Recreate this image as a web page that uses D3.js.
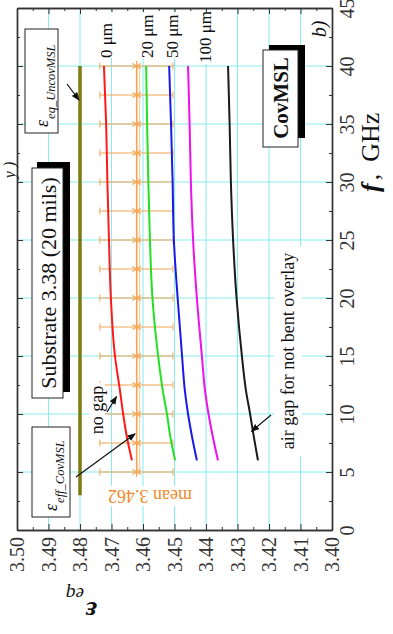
<!DOCTYPE html>
<html>
<head>
<meta charset="utf-8">
<script src="https://cdn.jsdelivr.net/npm/d3@7"></script>
<style>
  body { margin: 0; background: #fff; }
  svg { display: block; font-family: "Liberation Serif", "DejaVu Serif", serif; }
  svg text { font-family: "Liberation Serif", "DejaVu Serif", serif; }
</style>
</head>
<body>
<script>
'use strict';

// frequency samples (GHz) shared by the five curves
const freqs = [6, 8, 10, 12, 15, 20, 25, 30, 35, 40];

// eps_eq of the covered line for each air gap
const eps0um   = [3.4635, 3.4651, 3.4663, 3.4673, 3.4689, 3.4702, 3.4708, 3.4713, 3.4717, 3.4724];
const eps20um  = [3.4498, 3.4513, 3.4524, 3.4537, 3.4552, 3.4570, 3.4578, 3.4583, 3.4587, 3.4590];
const eps50um  = [3.4429, 3.4444, 3.4457, 3.4467, 3.4476, 3.4490, 3.4502, 3.4506, 3.4511, 3.4517];
const eps100um = [3.4362, 3.4378, 3.4392, 3.4403, 3.4413, 3.4429, 3.4441, 3.4448, 3.4452, 3.4457];
const epsBent  = [3.4235, 3.4248, 3.4260, 3.4273, 3.4286, 3.4303, 3.4314, 3.4321, 3.4325, 3.4330];

// uncovered microstrip: flat line
const uncovFreqs = [3, 40];
const uncovEps = [3.480, 3.480];

// mean value with its spread (orange error bars)
const meanFreqs = [5, 7.5, 10, 12.5, 15, 17.5, 20, 22.5, 25, 27.5, 30, 32.5, 35, 37.5, 40];
const meanEps = 3.462;
const meanLow = 3.4505;
const meanHigh = 3.4737;

// axis ticks
const epsTicks = [3.40, 3.41, 3.42, 3.43, 3.44, 3.45, 3.46, 3.47, 3.48, 3.49, 3.50];
const epsMinor = [3.405, 3.415, 3.425, 3.435, 3.445, 3.455, 3.465, 3.475, 3.485, 3.495];
const fTicks = [0, 5, 10, 15, 20, 25, 30, 35, 40, 45];
const fMinor = [2.5, 7.5, 12.5, 17.5, 22.5, 27.5, 32.5, 37.5, 42.5];

const curveNames = ['0 μm', '20 μm', '50 μm', '100 μm', 'bent'];
const curveColors = ['#ff1a1a', '#22e022', '#1a1ae6', '#ee10ee', '#1a1a1a'];
const curveValues = [eps0um, eps20um, eps50um, eps100um, epsBent];

const serif = '"Liberation Serif", "DejaVu Serif", serif';

const svg = d3.select('body').append('svg')
  .attr('width', 393)
  .attr('height', 634);

// the plot is drawn turned a quarter turn: eps runs left->right (decreasing), f runs bottom->top
const x = d3.scaleLinear().domain([3.50, 3.40]).range([17, 332]);
const y = d3.scaleLinear().domain([0, 45]).range([530, 8]);

const gridColor = '#86ecef';
const orange = '#f4a453';

// grid lines
svg.append('g').selectAll('line')
  .data(epsTicks.slice(1, -1))
  .enter().append('line')
    .attr('x1', d => x(d)).attr('x2', d => x(d))
    .attr('y1', y(0)).attr('y2', y(45))
    .attr('stroke', gridColor).attr('stroke-width', 1);

svg.append('g').selectAll('line')
  .data(fTicks.slice(1, -1))
  .enter().append('line')
    .attr('y1', d => y(d)).attr('y2', d => y(d))
    .attr('x1', x(3.50)).attr('x2', x(3.40))
    .attr('stroke', gridColor).attr('stroke-width', 1);

// uncovered MSL line
let line = d3.line()
  .x(d => x(d[1]))
  .y(d => y(d[0]));

svg.append('path')
  .datum(d3.zip(uncovFreqs, uncovEps))
  .attr('fill', 'none')
  .attr('stroke', '#7d7a12')
  .attr('stroke-width', 3.5)
  .attr('d', line);

// mean with error bars
let errG = svg.append('g');
errG.append('line')
  .attr('x1', x(meanEps)).attr('x2', x(meanEps))
  .attr('y1', y(meanFreqs[0])).attr('y2', y(meanFreqs[meanFreqs.length - 1]))
  .attr('stroke', orange).attr('stroke-width', 1.6);
errG.append('line')
  .attr('x1', x(meanEps) + 3).attr('x2', x(meanEps) + 3)
  .attr('y1', y(meanFreqs[0])).attr('y2', y(meanFreqs[meanFreqs.length - 1]))
  .attr('stroke', '#f9c795').attr('stroke-width', 1);

meanFreqs.forEach(f => {
  errG.append('line')
    .attr('x1', x(meanHigh)).attr('x2', x(meanLow))
    .attr('y1', y(f)).attr('y2', y(f))
    .attr('stroke', orange).attr('stroke-width', 1);
  [meanHigh, meanLow].forEach(e => {
    errG.append('line')
      .attr('x1', x(e)).attr('x2', x(e))
      .attr('y1', y(f) - 3.5).attr('y2', y(f) + 3.5)
      .attr('stroke', orange).attr('stroke-width', 1);
  });
  errG.append('path')
    .attr('d', d3.symbol(d3.symbolAsterisk, 70)())
    .attr('transform', 'translate(' + x(meanEps) + ',' + y(f) + ')')
    .attr('fill', 'none')
    .attr('stroke', orange)
    .attr('stroke-width', 1.2);
});

// the five curves
curveValues.forEach((vals, i) => {
  svg.append('path')
    .datum(d3.zip(freqs, vals))
    .attr('fill', 'none')
    .attr('stroke', curveColors[i])
    .attr('stroke-width', 2)
    .attr('stroke-linejoin', 'round')
    .attr('d', line.curve(d3.curveMonotoneY));
});

// axes: ticks point inward on all four sides
function styleAxis(g) {
  g.attr('font-family', serif).attr('font-size', null);
  g.select('.domain').attr('stroke', '#333').attr('stroke-width', 1.4);
  g.selectAll('.tick line').attr('stroke', '#333');
}

let bottomAxis = svg.append('g')
  .attr('transform', 'translate(0,' + y(0) + ')')
  .call(d3.axisBottom(x).tickValues(epsTicks).tickSize(-6).tickSizeOuter(0).tickFormat(d3.format('.2f')))
  .call(styleAxis);
bottomAxis.selectAll('.tick text')
  .attr('transform', 'rotate(-90)')
  .attr('x', -7).attr('y', 0).attr('dy', '0.33em')
  .attr('text-anchor', 'end')
  .attr('fill', '#333')
  .style('font-family', serif)
  .style('font-size', '20px');
svg.append('g')
  .attr('transform', 'translate(0,' + y(0) + ')')
  .call(d3.axisBottom(x).tickValues(epsMinor).tickSize(-3).tickSizeOuter(0).tickFormat(''))
  .call(styleAxis);

svg.append('g')
  .attr('transform', 'translate(0,' + y(45) + ')')
  .call(d3.axisTop(x).tickValues(epsTicks).tickSize(-6).tickSizeOuter(0).tickFormat(''))
  .call(styleAxis);
svg.append('g')
  .attr('transform', 'translate(0,' + y(45) + ')')
  .call(d3.axisTop(x).tickValues(epsMinor).tickSize(-3).tickSizeOuter(0).tickFormat(''))
  .call(styleAxis);

svg.append('g')
  .attr('transform', 'translate(' + x(3.50) + ',0)')
  .call(d3.axisLeft(y).tickValues(fTicks).tickSize(-6).tickSizeOuter(0).tickFormat(''))
  .call(styleAxis);
svg.append('g')
  .attr('transform', 'translate(' + x(3.50) + ',0)')
  .call(d3.axisLeft(y).tickValues(fMinor).tickSize(-3).tickSizeOuter(0).tickFormat(''))
  .call(styleAxis);

let rightAxis = svg.append('g')
  .attr('transform', 'translate(' + x(3.40) + ',0)')
  .call(d3.axisRight(y).tickValues(fTicks).tickSize(-6).tickSizeOuter(0))
  .call(styleAxis);
rightAxis.selectAll('.tick text')
  .attr('transform', 'rotate(-90)')
  .attr('x', 0).attr('y', 15).attr('dy', '0.33em')
  .attr('text-anchor', 'middle')
  .attr('fill', '#333')
  .style('font-family', serif)
  .style('font-size', '20px');
svg.append('g')
  .attr('transform', 'translate(' + x(3.40) + ',0)')
  .call(d3.axisRight(y).tickValues(fMinor).tickSize(-3).tickSizeOuter(0).tickFormat(''))
  .call(styleAxis);

// helper for text turned like the chart (reads bottom to top)
function upText(cx, cy, txt, size, opts) {
  opts = opts || {};
  let t = svg.append('text')
    .attr('transform', 'translate(' + cx + ',' + cy + ') rotate(' + (opts.angle || -90) + ')')
    .attr('text-anchor', opts.anchor || 'middle')
    .attr('dy', opts.dy || '0.35em')
    .style('font-size', size + 'px')
    .attr('fill', opts.fill || '#111')
    .text(txt);
  if (opts.italic) t.style('font-style', 'italic');
  if (opts.bold) t.style('font-weight', 'bold');
  return t;
}

// arrow heads
svg.append('defs').append('marker')
  .attr('id', 'arr')
  .attr('viewBox', '0 0 10 10')
  .attr('refX', 9).attr('refY', 5)
  .attr('markerWidth', 7).attr('markerHeight', 7)
  .attr('orient', 'auto')
  .append('path')
    .attr('d', 'M0,1 L10,5 L0,9 z')
    .attr('fill', '#111');

function arrow(x1, y1, x2, y2) {
  svg.append('line')
    .attr('x1', x1).attr('y1', y1).attr('x2', x2).attr('y2', y2)
    .attr('stroke', '#111').attr('stroke-width', 1.2)
    .attr('marker-end', 'url(#arr)');
}

// curve labels at the top ends
let labelX = [106, 147, 172, 205];
curveNames.slice(0, 4).forEach((name, i) => {
  svg.append('rect')
    .attr('x', labelX[i] - 7).attr('y', 12)
    .attr('width', 14).attr('height', i === 3 ? 52 : 46)
    .attr('fill', '#fff');
  upText(labelX[i], 58 + (i === 3 ? 5 : 0), name, 17, { anchor: 'start' });
});

// uncovered MSL box
svg.append('rect').attr('x', 25).attr('y', 29).attr('width', 33).attr('height', 104)
  .attr('fill', '#fff').attr('stroke', '#222').attr('stroke-width', 1);
let tUn = svg.append('text')
  .attr('transform', 'translate(48,127) rotate(-90)')
  .style('font-style', 'italic').attr('fill', '#111');
tUn.append('tspan').style('font-size', '18px').text('ε');
tUn.append('tspan').style('font-size', '12.5px').attr('dy', 7).attr('dx', 1).text('eq_UncovMSL');
arrow(67, 84, x(uncovEps[0]) - 1, y(37.5) + 5);

// substrate box with shadow
svg.append('rect').attr('x', 37).attr('y', 162).attr('width', 33).attr('height', 230).attr('fill', '#000');
svg.append('rect').attr('x', 32).attr('y', 168).attr('width', 31).attr('height', 230)
  .attr('fill', '#fff').attr('stroke', '#222').attr('stroke-width', 1);
upText(48, 283, 'Substrate 3.38 (20 mils)', 22);

// covered MSL eff box
svg.append('rect').attr('x', 32).attr('y', 427).attr('width', 38).attr('height', 90)
  .attr('fill', '#fff').attr('stroke', '#222').attr('stroke-width', 1);
let tCov = svg.append('text')
  .attr('transform', 'translate(57,511) rotate(-90)')
  .style('font-style', 'italic').attr('fill', '#111');
tCov.append('tspan').style('font-size', '18px').text('ε');
tCov.append('tspan').style('font-size', '12.5px').attr('dy', 7).attr('dx', 1).text('eff_CovMSL');
arrow(76, 477, x(3.4625), y(8.3));

// no gap
svg.append('rect').attr('x', 89).attr('y', 383).attr('width', 16).attr('height', 54).attr('fill', '#fff');
upText(97, 410, 'no gap', 18);
arrow(107, 412, x(3.4681) - 1, y(11.5));

// air gap
svg.append('rect').attr('x', 274).attr('y', 246).attr('width', 28).attr('height', 210).attr('fill', '#fff');
upText(288, 351, 'air gap for not bent overlay', 18);
arrow(271, 415, x(3.4262) + 2, y(8.5));

// CovMSL box with shadow
svg.append('rect').attr('x', 269).attr('y', 45).attr('width', 36).attr('height', 93).attr('fill', '#000');
svg.append('rect').attr('x', 263).attr('y', 50).attr('width', 35).attr('height', 97)
  .attr('fill', '#fff').attr('stroke', '#222').attr('stroke-width', 1);
upText(281, 98, 'CovMSL', 21, { bold: true });

// b)
svg.append('rect').attr('x', 309).attr('y', 17).attr('width', 20).attr('height', 24).attr('fill', '#fff');
upText(319, 29, 'b)', 20, { italic: true });

// mean label (upside down)
svg.append('rect').attr('x', 105).attr('y', 486).attr('width', 90).attr('height', 20).attr('fill', '#fff');
upText(150, 496, 'mean 3.462', 18, { angle: 180, fill: '#f08a2a' });

// axis titles
let fTitle = svg.append('text')
  .attr('transform', 'translate(379,192) rotate(-90)')
  .style('font-size', '26px').attr('fill', '#111');
fTitle.append('tspan').style('font-style', 'italic').style('font-weight', 'bold').text('f');
fTitle.append('tspan').attr('dx', 3).text(',');
fTitle.append('tspan').attr('dx', 12).text('GHz');

svg.append('text')
  .attr('transform', 'translate(97,602) rotate(180)')
  .style('font-size', '28px').style('font-style', 'italic').style('font-weight', 'bold')
  .attr('fill', '#111').text('ε');
svg.append('text')
  .attr('transform', 'translate(84,588) rotate(180)')
  .style('font-size', '19px').style('font-style', 'italic')
  .attr('fill', '#111').text('eq');

// leftover of a title at the very left edge
upText(9, 170, 'y )', 16, { italic: true });
</script>
</body>
</html>
